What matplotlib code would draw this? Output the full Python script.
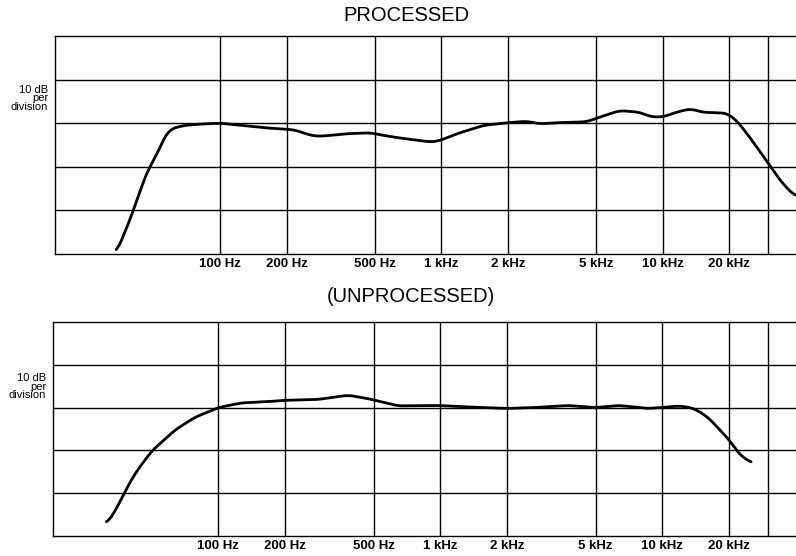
import numpy as np
import matplotlib.pyplot as plt

plt.rcParams['font.family'] = ['Liberation Sans', 'DejaVu Sans']

# grid frequencies and labels
grid_freqs = [100, 200, 500, 1000, 2000, 5000, 10000, 20000, 30000]
tick_freqs = [100, 200, 500, 1000, 2000, 5000, 10000, 20000]
tick_labels = ['100 Hz', '200 Hz', '500 Hz', '1 kHz', '2 kHz', '5 kHz', '10 kHz', '20 kHz']

# processed response (Hz, dB)
proc_f = [34, 39.8, 42.7, 47.9, 51.5, 56, 60, 69, 82, 100, 115, 164, 215, 232, 257, 285,
          377, 479, 548, 650, 894, 970, 1180, 1550, 1980, 2440, 2780, 3430, 4520, 5200,
          6400, 7900, 8740, 9980, 11500, 13300, 15200, 19500, 21600, 24700, 30400, 34700, 39800]
proc_db = [-29.8, -21.4, -16.8, -10.0, -7.7, -3.2, -1.3, -0.5, -0.2, 0.0, -0.3, -1.1, -1.5, -2.0,
           -2.8, -3.0, -2.4, -2.2, -2.8, -3.4, -4.3, -4.1, -2.4, -0.5, 0.1, 0.45, -0.15, 0.15,
           0.3, 1.4, 2.9, 2.5, 1.5, 1.4, 2.5, 3.3, 2.5, 2.3, 0.6, -3.2, -9.6, -13.8, -16.8]

# unprocessed response (Hz, dB)
unproc_f = [31.3, 34, 37.2, 42, 50, 63.6, 78.2, 100, 127, 167, 198, 281, 384, 472, 645,
            978, 1330, 1970, 2640, 3770, 4950, 6350, 8600, 9800, 12100, 13900, 16100,
            18500, 20100, 21900, 25100]
unproc_db = [-27.1, -24.6, -20.5, -15.5, -10.2, -5.3, -2.3, 0.0, 1.1, 1.4, 1.7, 1.9, 2.9, 2.1,
             0.4, 0.5, 0.15, -0.2, 0.0, 0.5, 0.0, 0.5, -0.2, 0.0, 0.4, -0.2, -2.3, -5.7,
             -7.6, -10.6, -12.9]


def smooth_curve(f, db, n=400):
    lf = np.log10(f)
    xs = np.linspace(lf[0], lf[-1], n)
    ys = np.interp(xs, lf, db)
    k = np.ones(7) / 7
    pad = np.concatenate([np.full(3, ys[0]), ys, np.full(3, ys[-1])])
    ys = np.convolve(pad, k, mode='valid')
    return 10 ** xs, ys


def panel(ax, f, db, label_y):
    ax.set_xscale('log')
    ax.set_xlim(18, 40000)
    ax.set_ylim(-30, 20)
    for g in grid_freqs:
        ax.axvline(g, color='black', lw=1.0)
    for h in [-20, -10, 0, 10]:
        ax.axhline(h, color='black', lw=1.0)
    xs, ys = smooth_curve(f, db)
    ax.plot(xs, ys, color='black', lw=2.0, solid_capstyle='round', clip_on=False)
    ax.set_xticks(tick_freqs)
    ax.set_xticklabels(tick_labels, fontsize=9.5, fontweight='bold')
    ax.xaxis.set_minor_locator(plt.NullLocator())
    ax.tick_params(axis='x', length=0, pad=3)
    ax.set_yticks([])
    for s in ['left', 'top', 'bottom']:
        ax.spines[s].set_linewidth(1.0)
    ax.spines['right'].set_visible(False)
    ax.text(-0.009, label_y, '10 dB\nper\ndivision', transform=ax.get_yaxis_transform(),
            ha='right', va='center', fontsize=8, linespacing=0.8)


fig = plt.figure(figsize=(7.96, 5.56), dpi=100)
ax1 = fig.add_axes([55 / 796, 1 - 254 / 556, 1 - 55 / 796, 218 / 556])
ax2 = fig.add_axes([53 / 796, 1 - 536 / 556, 1 - 53 / 796, 214 / 556])

panel(ax1, proc_f, proc_db, 5.7)
panel(ax2, unproc_f, unproc_db, 4.9)

fig.text(406 / 796, 1 - 15.5 / 556, 'PROCESSED', ha='center', va='center', fontsize=14.5)
fig.text(411 / 796, 1 - 296 / 556, '(UNPROCESSED)', ha='center', va='center', fontsize=14.5)

fig.savefig('out.png', dpi=100)
